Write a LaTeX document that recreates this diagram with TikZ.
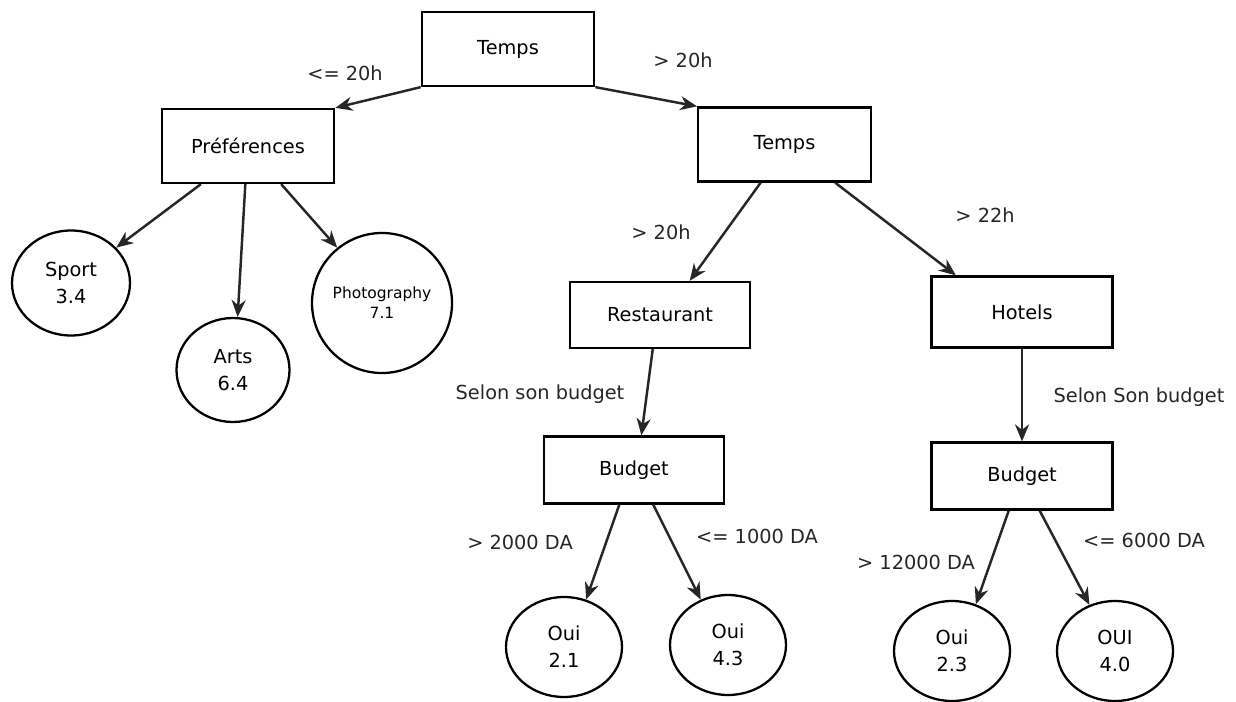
\documentclass[tikz,border=0pt]{standalone}
\usepackage{fontspec}
\setmainfont{DejaVu Sans}
\usetikzlibrary{arrows.meta,shapes.geometric}

\begin{document}
\begin{tikzpicture}[>={Stealth[length=3.4mm,width=2.8mm]},
font=\fontsize{11}{15.5}\selectfont,
test node/.style = {rectangle,draw,line width=1.3pt,inner sep=0pt,minimum width=3.45cm,minimum height=1.48cm},
leaf node/.style = {ellipse,draw,line width=1.3pt,inner sep=0pt,align=center,minimum width=2.32cm,minimum height=2cm},
cond/.style = {text=black!85}]

\useasboundingbox (0,0) rectangle (24.72,14.02);

% tests
\node[test node] at (10.16,13.04) (temps) {Temps};
\node[test node] at (4.96,11.10) (pref) {Préférences};
\node[test node] at (15.69,11.13) (temps2) {Temps};
\node[test node,minimum width=3.6cm,minimum height=1.32cm] at (13.20,7.72) (resto) {Restaurant};
\node[test node,minimum width=3.62cm,minimum height=1.42cm] at (20.44,7.78) (hotels) {Hotels};
\node[test node,minimum width=3.6cm,minimum height=1.34cm] at (12.68,4.62) (budget1) {Budget};
\node[test node,minimum width=3.62cm,minimum height=1.34cm] at (20.44,4.50) (budget2) {Budget};

% leaves
\node[leaf node,minimum width=2.36cm,minimum height=2.1cm] at (1.42,8.36) (sport) {Sport\\3.4};
\node[leaf node,minimum width=2.26cm,minimum height=2.08cm] at (4.66,6.62) (arts) {Arts\\6.4};
\node[leaf node,minimum width=2.8cm,minimum height=2.8cm,font=\fontsize{8.8}{11.4}\selectfont] at (7.64,7.96) (photo) {Photography\\7.1};
\node[leaf node] at (11.28,1.08) (oui1) {Oui\\2.1};
\node[leaf node] at (14.56,1.12) (oui2) {Oui\\4.3};
\node[leaf node] at (19.04,1.00) (oui3) {Oui\\2.3};
\node[leaf node] at (22.30,1.00) (oui4) {OUI\\4.0};

% conditions
\node[cond] at (6.90,12.56) (c1) {<= 20h};
\node[cond] at (13.66,12.82) (c2) {> 20h};
\node[cond] at (13.22,9.38) (c3) {> 20h};
\node[cond] at (19.70,9.72) (c4) {> 22h};
\node[cond] at (10.80,6.14) (c5) {Selon son budget};
\node[cond] at (22.78,6.08) (c6) {Selon Son budget};
\node[cond] at (10.40,3.18) (c7) {> 2000 DA};
\node[cond] at (15.14,3.30) (c8) {<= 1000 DA};
\node[cond] at (18.32,2.78) (c9) {> 12000 DA};
\node[cond] at (22.88,3.22) (c10) {<= 6000 DA};

\path[->,line width=1.4pt,black!85]
(temps.south west) edge (pref.north east)
(temps.south east) edge (temps2.north west)
(pref.219) edge (sport.38)
(pref.266) edge (arts.85)
(pref.311) edge (photo.129)
(temps2.238) edge (resto.49)
(temps2.323) edge (hotels.151)
(resto.258) edge (budget1.78)
(hotels.south) edge (budget2.north)
(budget1.247) edge (oui1.65)
(budget1.299) edge (oui2.121)
(budget2.249) edge (oui3.63)
(budget2.297) edge (oui4.119);
\end{tikzpicture}
\end{document}
